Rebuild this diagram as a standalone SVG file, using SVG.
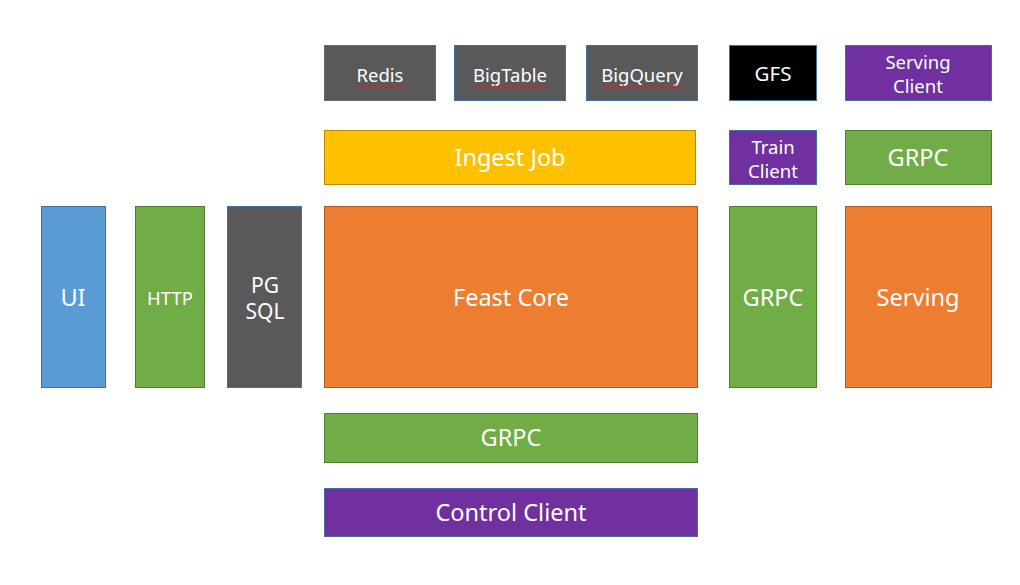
<svg xmlns="http://www.w3.org/2000/svg" width="1020" height="585" viewBox="0 0 1020 585">
<style>
text{font-family:"Noto Sans","Open Sans","Liberation Sans",sans-serif;fill:#fff;text-anchor:middle;dominant-baseline:central}
.gray{fill:#595959;stroke:#41719C;stroke-width:1}
.gray2{fill:#595959;stroke:#6b6b6b;stroke-width:1}
.blk{fill:#000;stroke:#41719C;stroke-width:1}
.pur{fill:#7030A0;stroke:#41719C;stroke-width:1}
.grn{fill:#70AD47;stroke:#507E32;stroke-width:1}
.org{fill:#ED7D31;stroke:#AE5A21;stroke-width:1}
.yel{fill:#FFC000;stroke:#BC8C00;stroke-width:1}
.blu{fill:#5B9BD5;stroke:#41719C;stroke-width:1}
.sq{fill:none;stroke:#E02020;stroke-width:1}
.s17{font-size:18.5px}.s22{font-size:23.5px}.s20{font-size:21px}
</style>
<g id="redis"><rect class="gray2" x="324.5" y="45.5" width="111" height="55"/><text class="s17" x="380" y="74">Redis</text><path class="sq" d="M357 87 l2 -1.5 l2 1.5 l2 -1.5 l2 1.5 l2 -1.5 l2 1.5 l2 -1.5 l2 1.5 l2 -1.5 l2 1.5 l2 -1.5 l2 1.5 l2 -1.5 l2 1.5 l2 -1.5 l2 1.5 l2 -1.5 l2 1.5 l2 -1.5 l2 1.5 l2 -1.5 l2 1.5 l2 -1.5 l2 1.5"/></g>
<g id="bigtable"><rect class="gray" x="454.5" y="45.5" width="111" height="55"/><text class="s17" x="510" y="74">BigTable</text><path class="sq" d="M473 87 l2 -1.5 l2 1.5 l2 -1.5 l2 1.5 l2 -1.5 l2 1.5 l2 -1.5 l2 1.5 l2 -1.5 l2 1.5 l2 -1.5 l2 1.5 l2 -1.5 l2 1.5 l2 -1.5 l2 1.5 l2 -1.5 l2 1.5 l2 -1.5 l2 1.5 l2 -1.5 l2 1.5 l2 -1.5 l2 1.5 l2 -1.5 l2 1.5 l2 -1.5 l2 1.5 l2 -1.5 l2 1.5 l2 -1.5 l2 1.5 l2 -1.5 l2 1.5 l2 -1.5 l2 1.5 l2 -1.5"/></g>
<g id="bigquery"><rect class="gray" x="586.5" y="45.5" width="111" height="55"/><text class="s17" x="642" y="74">BigQuery</text><path class="sq" d="M601 87 l2 -1.5 l2 1.5 l2 -1.5 l2 1.5 l2 -1.5 l2 1.5 l2 -1.5 l2 1.5 l2 -1.5 l2 1.5 l2 -1.5 l2 1.5 l2 -1.5 l2 1.5 l2 -1.5 l2 1.5 l2 -1.5 l2 1.5 l2 -1.5 l2 1.5 l2 -1.5 l2 1.5 l2 -1.5 l2 1.5 l2 -1.5 l2 1.5 l2 -1.5 l2 1.5 l2 -1.5 l2 1.5 l2 -1.5 l2 1.5 l2 -1.5 l2 1.5 l2 -1.5 l2 1.5 l2 -1.5 l2 1.5 l2 -1.5 l2 1.5 l2 -1.5"/></g>
<g id="gfs"><rect class="blk" x="729.5" y="45.5" width="87" height="55"/><text x="773" y="73" font-size="20.5px">GFS</text></g>
<g id="serving-client"><rect class="pur" x="845.5" y="45.5" width="146" height="55"/><text class="s17" x="918" y="61">Serving</text><text class="s17" x="918" y="85">Client</text></g>
<g id="ingest-job"><rect class="yel" x="324.5" y="130.5" width="371" height="54"/><text class="s22" x="510" y="157">Ingest Job</text></g>
<g id="train-client"><rect class="pur" x="729.5" y="130.5" width="87" height="54"/><text class="s17" x="773" y="146">Train</text><text class="s17" x="773" y="170">Client</text></g>
<g id="grpc-serving-client"><rect class="grn" x="845.5" y="130.5" width="146" height="54"/><text class="s22" x="918" y="157">GRPC</text></g>
<g id="ui"><rect class="blu" x="41.5" y="206.5" width="64" height="181"/><text class="s22" x="73" y="297">UI</text></g>
<g id="http"><rect class="grn" x="135.5" y="206.5" width="69" height="181"/><text class="s17" x="170" y="297">HTTP</text></g>
<g id="pgsql"><rect class="gray" x="227.5" y="206.5" width="74" height="181"/><text class="s20" x="265" y="285">PG</text><text class="s20" x="265" y="311">SQL</text></g>
<g id="feast-core"><rect class="org" x="324.5" y="206.5" width="373" height="181"/><text class="s22" x="511" y="297">Feast Core</text></g>
<g id="grpc-train"><rect class="grn" x="729.5" y="206.5" width="87" height="181"/><text class="s22" x="773" y="297">GRPC</text></g>
<g id="serving"><rect class="org" x="845.5" y="206.5" width="146" height="181"/><text class="s22" x="918" y="297">Serving</text></g>
<g id="grpc-core"><rect class="grn" x="324.5" y="413.5" width="373" height="49"/><text class="s22" x="511" y="437">GRPC</text></g>
<g id="control-client"><rect class="pur" x="324.5" y="488.5" width="373" height="48"/><text class="s22" x="511" y="512">Control Client</text></g>
<g id="connectors"></g>
</svg>
